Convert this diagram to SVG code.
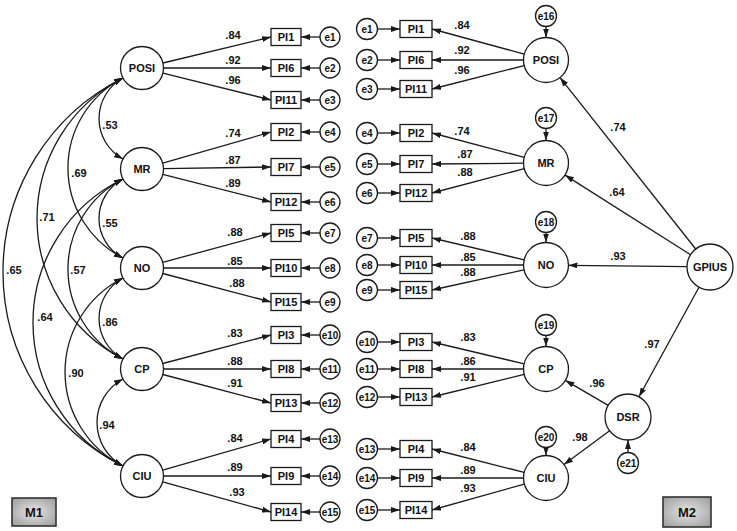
<svg xmlns="http://www.w3.org/2000/svg" width="737" height="531" viewBox="0 0 737 531">
<defs>
<marker id="ah" viewBox="0 0 9 6" markerUnits="userSpaceOnUse" markerWidth="9" markerHeight="6" refX="9" refY="3" orient="auto-start-reverse">
<path d="M0,0 L9,3 L0,6 z" fill="#1a1a1a"/>
</marker>
<radialGradient id="mg" cx="50%" cy="50%" r="70%">
<stop offset="0" stop-color="#e6e6e6"/>
<stop offset="1" stop-color="#9a9a9a"/>
</radialGradient>
</defs>
<style>
text{font-family:"Liberation Sans",Arial,sans-serif;fill:#111;text-anchor:middle;font-weight:bold}
.f{font-size:11px}
.b{font-size:11px}
.e{font-size:10px}
.n{font-size:11px}
.t{font-size:13px}
circle,rect.o{fill:#fff;stroke:#1a1a1a;stroke-width:1.3}
.c path,.c line{stroke:#1a1a1a;stroke-width:1.3;fill:none}
.a{marker-end:url(#ah)}
.d{marker-start:url(#ah);marker-end:url(#ah)}
.m{fill:url(#mg);stroke:#333;stroke-width:1.6}
</style>
<rect width="737" height="531" fill="#fff"/>

<g class="c" id="connectors">
<path class="d" d="M123,78 A46.2,46.2 0 0 0 123,159"/>
<path class="d" d="M123,179 A44.5,44.5 0 0 0 123,258"/>
<path class="d" d="M123,278 A46.2,46.2 0 0 0 123,359"/>
<path class="d" d="M123,379 A49.4,49.4 0 0 0 123,466"/>
<path class="d" d="M123,78 A101.1,101.1 0 0 0 123,258"/>
<path class="d" d="M123,179 A101.1,101.1 0 0 0 123,359"/>
<path class="d" d="M123,278 A105.2,105.2 0 0 0 123,466"/>
<path class="d" d="M123,78 A157.8,157.8 0 0 0 123,359"/>
<path class="d" d="M123,179 A159.4,159.4 0 0 0 123,466"/>
<path class="d" d="M123,78 A216.8,216.8 0 0 0 123,466"/>
<line class="a" x1="162.9" y1="63" x2="271" y2="37"/>
<line class="a" x1="163.5" y1="68" x2="271" y2="68"/>
<line class="a" x1="162.9" y1="73.2" x2="271" y2="100"/>
<line class="a" x1="162.7" y1="163.1" x2="271" y2="132"/>
<line class="a" x1="163.5" y1="168.7" x2="271" y2="167"/>
<line class="a" x1="162.8" y1="174.3" x2="271" y2="202"/>
<line class="a" x1="162.7" y1="262.4" x2="271" y2="233"/>
<line class="a" x1="163.5" y1="268" x2="271" y2="268"/>
<line class="a" x1="162.8" y1="273.5" x2="271" y2="302"/>
<line class="a" x1="162.8" y1="363.5" x2="271" y2="335"/>
<line class="a" x1="163.5" y1="369" x2="271" y2="369"/>
<line class="a" x1="162.8" y1="374.5" x2="271" y2="403"/>
<line class="a" x1="162.7" y1="470.1" x2="271" y2="439"/>
<line class="a" x1="163.5" y1="476" x2="271" y2="476"/>
<line class="a" x1="162.7" y1="481.8" x2="271" y2="512"/>
<line class="a" x1="320" y1="37" x2="301" y2="37"/>
<line class="a" x1="320" y1="68" x2="301" y2="68"/>
<line class="a" x1="320" y1="100" x2="301" y2="100"/>
<line class="a" x1="320" y1="132" x2="301" y2="132"/>
<line class="a" x1="320" y1="167" x2="301" y2="167"/>
<line class="a" x1="320" y1="202" x2="301" y2="202"/>
<line class="a" x1="320" y1="233" x2="301" y2="233"/>
<line class="a" x1="320" y1="268" x2="301" y2="268"/>
<line class="a" x1="320" y1="302" x2="301" y2="302"/>
<line class="a" x1="320" y1="335" x2="301" y2="335"/>
<line class="a" x1="320" y1="369" x2="301" y2="369"/>
<line class="a" x1="320" y1="403" x2="301" y2="403"/>
<line class="a" x1="320" y1="439" x2="301" y2="439"/>
<line class="a" x1="320" y1="476" x2="301" y2="476"/>
<line class="a" x1="320" y1="512" x2="301" y2="512"/>
<line class="a" x1="524.3" y1="54.1" x2="432" y2="29"/>
<line class="a" x1="523.5" y1="60" x2="432" y2="60"/>
<line class="a" x1="524.2" y1="65.6" x2="432" y2="89"/>
<line class="a" x1="524.2" y1="157.3" x2="432" y2="133"/>
<line class="a" x1="523.5" y1="163.2" x2="432" y2="164"/>
<line class="a" x1="524.2" y1="168.7" x2="432" y2="193"/>
<line class="a" x1="524.1" y1="259.8" x2="432" y2="238"/>
<line class="a" x1="523.5" y1="265" x2="432" y2="265"/>
<line class="a" x1="524" y1="269.8" x2="432" y2="290"/>
<line class="a" x1="524.1" y1="363.8" x2="432" y2="342"/>
<line class="a" x1="523.5" y1="369" x2="432" y2="369"/>
<line class="a" x1="524.2" y1="374.4" x2="432" y2="397"/>
<line class="a" x1="524.2" y1="472.4" x2="432" y2="449"/>
<line class="a" x1="523.5" y1="478" x2="432" y2="478"/>
<line class="a" x1="524.3" y1="484.1" x2="432" y2="510"/>
<line class="a" x1="377.5" y1="29" x2="400" y2="29"/>
<line class="a" x1="377.5" y1="60" x2="400" y2="60"/>
<line class="a" x1="377.5" y1="89" x2="400" y2="89"/>
<line class="a" x1="377.5" y1="133" x2="400" y2="133"/>
<line class="a" x1="377.5" y1="164" x2="400" y2="164"/>
<line class="a" x1="377.5" y1="193" x2="400" y2="193"/>
<line class="a" x1="377.5" y1="238" x2="400" y2="238"/>
<line class="a" x1="377.5" y1="265" x2="400" y2="265"/>
<line class="a" x1="377.5" y1="290" x2="400" y2="290"/>
<line class="a" x1="377.5" y1="342" x2="400" y2="342"/>
<line class="a" x1="377.5" y1="369" x2="400" y2="369"/>
<line class="a" x1="377.5" y1="397" x2="400" y2="397"/>
<line class="a" x1="377.5" y1="449" x2="400" y2="449"/>
<line class="a" x1="377.5" y1="478" x2="400" y2="478"/>
<line class="a" x1="377.5" y1="510" x2="400" y2="510"/>
<line class="a" x1="546" y1="26.5" x2="546" y2="37.5"/>
<line class="a" x1="546" y1="128.5" x2="546" y2="140.5"/>
<line class="a" x1="546" y1="232.5" x2="546" y2="242.5"/>
<line class="a" x1="546" y1="335.5" x2="546" y2="346.5"/>
<line class="a" x1="546" y1="447.5" x2="546" y2="455.5"/>
<line class="a" x1="628" y1="452.5" x2="628" y2="440"/>
<line class="a" x1="695.7" y1="249" x2="560" y2="77.6"/>
<line class="a" x1="690.6" y1="254.7" x2="565" y2="175.1"/>
<line class="a" x1="687" y1="266.7" x2="568.5" y2="265.3"/>
<line class="a" x1="699" y1="287.2" x2="639" y2="396.8"/>
<line class="a" x1="608.2" y1="405.4" x2="565.4" y2="380.4"/>
<line class="a" x1="609.6" y1="430.7" x2="564" y2="464.6"/>
</g>

<g id="labels">
<text class="n" x="110" y="129">.53</text>
<text class="n" x="79" y="177">.69</text>
<text class="n" x="47" y="221">.71</text>
<text class="n" x="14" y="274">.65</text>
<text class="n" x="78" y="274">.57</text>
<text class="n" x="110" y="227">.55</text>
<text class="n" x="45" y="321">.64</text>
<text class="n" x="110" y="326">.86</text>
<text class="n" x="76" y="377">.90</text>
<text class="n" x="107" y="429">.94</text>
<text class="n" x="233" y="39">.84</text>
<text class="n" x="233" y="64">.92</text>
<text class="n" x="233" y="84">.96</text>
<text class="n" x="233" y="137">.74</text>
<text class="n" x="233" y="164">.87</text>
<text class="n" x="233" y="187">.89</text>
<text class="n" x="235" y="236">.88</text>
<text class="n" x="235" y="265">.85</text>
<text class="n" x="237" y="287">.88</text>
<text class="n" x="235" y="337">.83</text>
<text class="n" x="235" y="365">.88</text>
<text class="n" x="235" y="387">.91</text>
<text class="n" x="235" y="442">.84</text>
<text class="n" x="235" y="471">.89</text>
<text class="n" x="237" y="496">.93</text>
<text class="n" x="462" y="29">.84</text>
<text class="n" x="462" y="54">.92</text>
<text class="n" x="462" y="74">.96</text>
<text class="n" x="462" y="135">.74</text>
<text class="n" x="465" y="158">.87</text>
<text class="n" x="465" y="176">.88</text>
<text class="n" x="468" y="240">.88</text>
<text class="n" x="468" y="261">.85</text>
<text class="n" x="468" y="276">.88</text>
<text class="n" x="468" y="341">.83</text>
<text class="n" x="468" y="365">.86</text>
<text class="n" x="468" y="381">.91</text>
<text class="n" x="468" y="451">.84</text>
<text class="n" x="468" y="474">.89</text>
<text class="n" x="468" y="492">.93</text>
<text class="n" x="618" y="131">.74</text>
<text class="n" x="617" y="196">.64</text>
<text class="n" x="618" y="260">.93</text>
<text class="n" x="652" y="348">.97</text>
<text class="n" x="597" y="387">.96</text>
<text class="n" x="580" y="441">.98</text>
</g>

<g id="m1-POSI"><circle cx="142" cy="68" r="21.5"/><text class="f" x="142" y="72">POSI</text></g>
<g id="m1-MR"><circle cx="142" cy="169" r="21.5"/><text class="f" x="142" y="173">MR</text></g>
<g id="m1-NO"><circle cx="142" cy="268" r="21.5"/><text class="f" x="142" y="272">NO</text></g>
<g id="m1-CP"><circle cx="142" cy="369" r="21.5"/><text class="f" x="142" y="373">CP</text></g>
<g id="m1-CIU"><circle cx="142" cy="476" r="21.5"/><text class="f" x="142" y="480">CIU</text></g>

<g id="m1-PI1"><rect class="o" x="271" y="28.5" width="30" height="17"/><text class="b" x="286" y="41">PI1</text></g>
<g id="m1-PI6"><rect class="o" x="271" y="59.5" width="30" height="17"/><text class="b" x="286" y="72">PI6</text></g>
<g id="m1-PI11"><rect class="o" x="271" y="91.5" width="30" height="17"/><text class="b" x="286" y="104">PI11</text></g>
<g id="m1-PI2"><rect class="o" x="271" y="123.5" width="30" height="17"/><text class="b" x="286" y="136">PI2</text></g>
<g id="m1-PI7"><rect class="o" x="271" y="158.5" width="30" height="17"/><text class="b" x="286" y="171">PI7</text></g>
<g id="m1-PI12"><rect class="o" x="271" y="193.5" width="30" height="17"/><text class="b" x="286" y="206">PI12</text></g>
<g id="m1-PI5"><rect class="o" x="271" y="224.5" width="30" height="17"/><text class="b" x="286" y="237">PI5</text></g>
<g id="m1-PI10"><rect class="o" x="271" y="259.5" width="30" height="17"/><text class="b" x="286" y="272">PI10</text></g>
<g id="m1-PI15"><rect class="o" x="271" y="293.5" width="30" height="17"/><text class="b" x="286" y="306">PI15</text></g>
<g id="m1-PI3"><rect class="o" x="271" y="326.5" width="30" height="17"/><text class="b" x="286" y="339">PI3</text></g>
<g id="m1-PI8"><rect class="o" x="271" y="360.5" width="30" height="17"/><text class="b" x="286" y="373">PI8</text></g>
<g id="m1-PI13"><rect class="o" x="271" y="394.5" width="30" height="17"/><text class="b" x="286" y="407">PI13</text></g>
<g id="m1-PI4"><rect class="o" x="271" y="430.5" width="30" height="17"/><text class="b" x="286" y="443">PI4</text></g>
<g id="m1-PI9"><rect class="o" x="271" y="467.5" width="30" height="17"/><text class="b" x="286" y="480">PI9</text></g>
<g id="m1-PI14"><rect class="o" x="271" y="503.5" width="30" height="17"/><text class="b" x="286" y="516">PI14</text></g>

<g id="m1-e1"><circle cx="330" cy="37" r="10"/><text class="e" x="330" y="40.5">e1</text></g>
<g id="m1-e2"><circle cx="330" cy="68" r="10"/><text class="e" x="330" y="71.5">e2</text></g>
<g id="m1-e3"><circle cx="330" cy="100" r="10"/><text class="e" x="330" y="103.5">e3</text></g>
<g id="m1-e4"><circle cx="330" cy="132" r="10"/><text class="e" x="330" y="135.5">e4</text></g>
<g id="m1-e5"><circle cx="330" cy="167" r="10"/><text class="e" x="330" y="170.5">e5</text></g>
<g id="m1-e6"><circle cx="330" cy="202" r="10"/><text class="e" x="330" y="205.5">e6</text></g>
<g id="m1-e7"><circle cx="330" cy="233" r="10"/><text class="e" x="330" y="236.5">e7</text></g>
<g id="m1-e8"><circle cx="330" cy="268" r="10"/><text class="e" x="330" y="271.5">e8</text></g>
<g id="m1-e9"><circle cx="330" cy="302" r="10"/><text class="e" x="330" y="305.5">e9</text></g>
<g id="m1-e10"><circle cx="330" cy="335" r="10"/><text class="e" x="330" y="338.5">e10</text></g>
<g id="m1-e11"><circle cx="330" cy="369" r="10"/><text class="e" x="330" y="372.5">e11</text></g>
<g id="m1-e12"><circle cx="330" cy="403" r="10"/><text class="e" x="330" y="406.5">e12</text></g>
<g id="m1-e13"><circle cx="330" cy="439" r="10"/><text class="e" x="330" y="442.5">e13</text></g>
<g id="m1-e14"><circle cx="330" cy="476" r="10"/><text class="e" x="330" y="479.5">e14</text></g>
<g id="m1-e15"><circle cx="330" cy="512" r="10"/><text class="e" x="330" y="515.5">e15</text></g>

<g id="m2-e1"><circle cx="367" cy="29" r="10.5"/><text class="e" x="367" y="32.5">e1</text></g>
<g id="m2-e2"><circle cx="367" cy="60" r="10.5"/><text class="e" x="367" y="63.5">e2</text></g>
<g id="m2-e3"><circle cx="367" cy="89" r="10.5"/><text class="e" x="367" y="92.5">e3</text></g>
<g id="m2-e4"><circle cx="367" cy="133" r="10.5"/><text class="e" x="367" y="136.5">e4</text></g>
<g id="m2-e5"><circle cx="367" cy="164" r="10.5"/><text class="e" x="367" y="167.5">e5</text></g>
<g id="m2-e6"><circle cx="367" cy="193" r="10.5"/><text class="e" x="367" y="196.5">e6</text></g>
<g id="m2-e7"><circle cx="367" cy="238" r="10.5"/><text class="e" x="367" y="241.5">e7</text></g>
<g id="m2-e8"><circle cx="367" cy="265" r="10.5"/><text class="e" x="367" y="268.5">e8</text></g>
<g id="m2-e9"><circle cx="367" cy="290" r="10.5"/><text class="e" x="367" y="293.5">e9</text></g>
<g id="m2-e10"><circle cx="367" cy="342" r="10.5"/><text class="e" x="367" y="345.5">e10</text></g>
<g id="m2-e11"><circle cx="367" cy="369" r="10.5"/><text class="e" x="367" y="372.5">e11</text></g>
<g id="m2-e12"><circle cx="367" cy="397" r="10.5"/><text class="e" x="367" y="400.5">e12</text></g>
<g id="m2-e13"><circle cx="367" cy="449" r="10.5"/><text class="e" x="367" y="452.5">e13</text></g>
<g id="m2-e14"><circle cx="367" cy="478" r="10.5"/><text class="e" x="367" y="481.5">e14</text></g>
<g id="m2-e15"><circle cx="367" cy="510" r="10.5"/><text class="e" x="367" y="513.5">e15</text></g>

<g id="m2-PI1"><rect class="o" x="400" y="20.5" width="32" height="17"/><text class="b" x="416" y="33">PI1</text></g>
<g id="m2-PI6"><rect class="o" x="400" y="51.5" width="32" height="17"/><text class="b" x="416" y="64">PI6</text></g>
<g id="m2-PI11"><rect class="o" x="400" y="80.5" width="32" height="17"/><text class="b" x="416" y="93">PI11</text></g>
<g id="m2-PI2"><rect class="o" x="400" y="124.5" width="32" height="17"/><text class="b" x="416" y="137">PI2</text></g>
<g id="m2-PI7"><rect class="o" x="400" y="155.5" width="32" height="17"/><text class="b" x="416" y="168">PI7</text></g>
<g id="m2-PI12"><rect class="o" x="400" y="184.5" width="32" height="17"/><text class="b" x="416" y="197">PI12</text></g>
<g id="m2-PI5"><rect class="o" x="400" y="229.5" width="32" height="17"/><text class="b" x="416" y="242">PI5</text></g>
<g id="m2-PI10"><rect class="o" x="400" y="256.5" width="32" height="17"/><text class="b" x="416" y="269">PI10</text></g>
<g id="m2-PI15"><rect class="o" x="400" y="281.5" width="32" height="17"/><text class="b" x="416" y="294">PI15</text></g>
<g id="m2-PI3"><rect class="o" x="400" y="333.5" width="32" height="17"/><text class="b" x="416" y="346">PI3</text></g>
<g id="m2-PI8"><rect class="o" x="400" y="360.5" width="32" height="17"/><text class="b" x="416" y="373">PI8</text></g>
<g id="m2-PI13"><rect class="o" x="400" y="388.5" width="32" height="17"/><text class="b" x="416" y="401">PI13</text></g>
<g id="m2-PI4"><rect class="o" x="400" y="440.5" width="32" height="17"/><text class="b" x="416" y="453">PI4</text></g>
<g id="m2-PI9"><rect class="o" x="400" y="469.5" width="32" height="17"/><text class="b" x="416" y="482">PI9</text></g>
<g id="m2-PI14"><rect class="o" x="400" y="501.5" width="32" height="17"/><text class="b" x="416" y="514">PI14</text></g>

<g id="m2-POSI"><circle cx="546" cy="60" r="22.5"/><text class="f" x="546" y="64">POSI</text></g>
<g id="m2-MR"><circle cx="546" cy="163" r="22.5"/><text class="f" x="546" y="167">MR</text></g>
<g id="m2-NO"><circle cx="546" cy="265" r="22.5"/><text class="f" x="546" y="269">NO</text></g>
<g id="m2-CP"><circle cx="546" cy="369" r="22.5"/><text class="f" x="546" y="373">CP</text></g>
<g id="m2-CIU"><circle cx="546" cy="478" r="22.5"/><text class="f" x="546" y="482">CIU</text></g>
<g id="m2-DSR"><circle cx="628" cy="417" r="23"/><text class="f" x="628" y="421">DSR</text></g>
<g id="m2-GPIUS"><circle cx="710" cy="267" r="23"/><text class="f" x="710" y="271">GPIUS</text></g>

<g id="m2-e16"><circle cx="546" cy="16" r="10.5"/><text class="e" x="546" y="19.5">e16</text></g>
<g id="m2-e17"><circle cx="546" cy="118" r="10.5"/><text class="e" x="546" y="121.5">e17</text></g>
<g id="m2-e18"><circle cx="546" cy="222" r="10.5"/><text class="e" x="546" y="225.5">e18</text></g>
<g id="m2-e19"><circle cx="546" cy="325" r="10.5"/><text class="e" x="546" y="328.5">e19</text></g>
<g id="m2-e20"><circle cx="546" cy="437" r="10.5"/><text class="e" x="546" y="440.5">e20</text></g>
<g id="m2-e21"><circle cx="628" cy="463" r="10.5"/><text class="e" x="628" y="466.5">e21</text></g>

<g id="tag-M1"><rect class="m" x="12" y="498" width="44" height="28"/><text class="t" x="34" y="517">M1</text></g>
<g id="tag-M2"><rect class="m" x="663" y="497" width="48" height="30"/><text class="t" x="687" y="517">M2</text></g>
</svg>
